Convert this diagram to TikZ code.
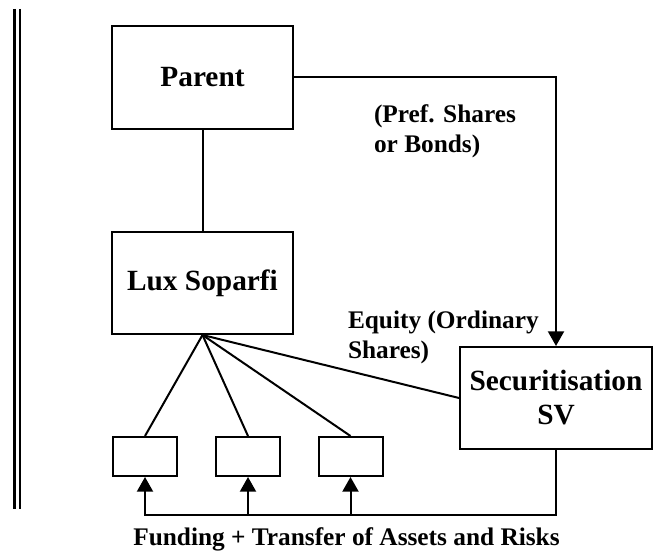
\documentclass[tikz,border=0pt]{standalone}
\usepackage{fontspec}
\setmainfont{Liberation Serif}
\usetikzlibrary{arrows.meta}

\tikzset{every picture/.style={line width=1.5pt}}
\tikzset{
  entity/.style={draw, inner sep=0pt, align=center, font=\bfseries\fontsize{22}{25.5}\selectfont},
  vehicle/.style={draw, inner sep=0pt, minimum width=48pt, minimum height=29.25pt},
  flowlabel/.style={inner sep=0pt, align=left, font=\bfseries\fontsize{19}{22.5}\selectfont},
  flow/.style={-{Triangle[length=11pt,width=12pt]}}
}

\begin{document}
\begin{tikzpicture}[x=0.75pt,y=0.75pt,yscale=-1,xscale=1]
\useasboundingbox (0,0) rectangle (653,552);

%Double Line
\draw [line width=1.7pt] (14.5,9) -- (14.5,509) ;
\draw [line width=1.7pt] (19.7,9) -- (19.7,509) ;

%Shapes
\node [entity, minimum width=135.75pt, minimum height=77.25pt] (parent) at (202.5,77.5) {Parent};
\node [entity, minimum width=135.75pt, minimum height=76.5pt] (soparfi) at (202.5,283) {Lux Soparfi};
\node [entity, minimum width=144pt, minimum height=76.5pt] (sv) at (556,398) {Securitisation\\SV};
\node [vehicle] (sub1) at (145,456.5) {};
\node [vehicle] (sub2) at (248,456.5) {};
\node [vehicle] (sub3) at (350.5,456.5) {};

%Straight Lines
\draw (parent) -- (soparfi) ;
\draw [flow] (parent.east) -| (sv.north) ;
\draw (soparfi.south) -- (sub1.north) ;
\draw (soparfi.south) -- (sub2.north) ;
\draw (soparfi.south) -- (sub3.north) ;
\draw (soparfi.south) -- (sv.west) ;
\draw [flow] (sv.south) -- ++(0,65) coordinate (turn) -| (sub1.south) ;
\draw [flow] (sub2.south |- turn) -- (sub2.south) ;
\draw [flow] (sub3.south |- turn) -- (sub3.south) ;

% Text Node
\node [flowlabel, anchor=base west] (pref) at (373,153) {(Pref. Shares\\or Bonds)};
% Text Node
\node [flowlabel, anchor=base west] (equity) at (347,358) {Equity (Ordinary\\Shares)};
% Text Node
\node [flowlabel, anchor=base] (funding) at (346.5,545) {Funding + Transfer of Assets and Risks};

\end{tikzpicture}
\end{document}
